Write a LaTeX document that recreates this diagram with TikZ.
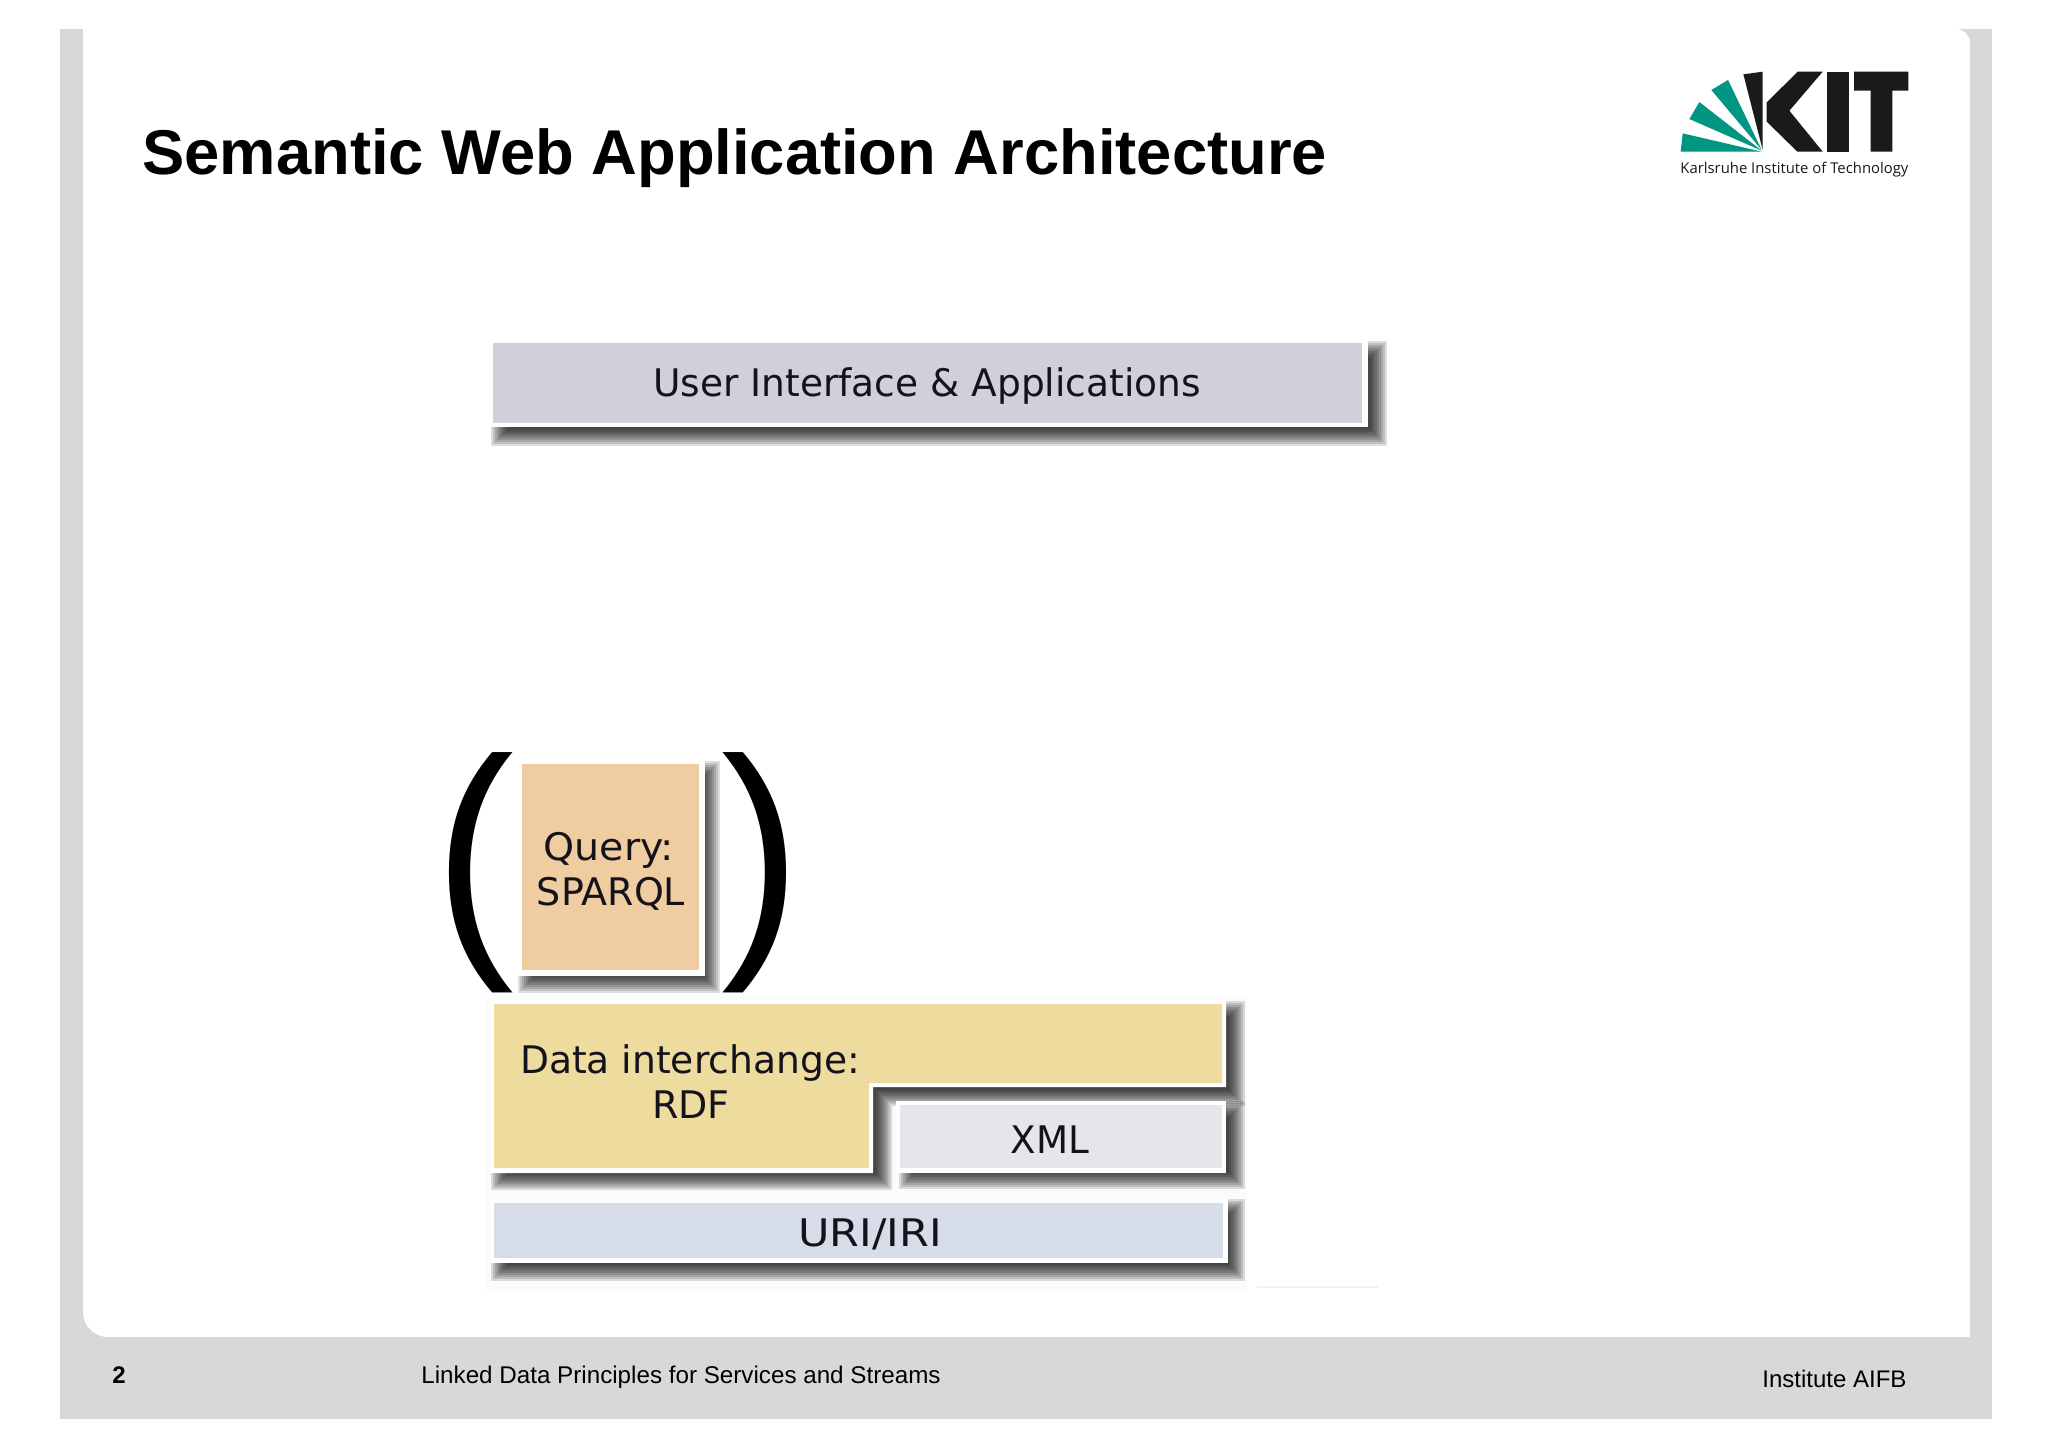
\documentclass[tikz,border=0pt]{standalone}
\usepackage{graphicx}
\usepackage{fontspec}
\setmainfont{Liberation Sans}
\newfontfamily\boxfont{DejaVu Sans}
\newfontfamily\logofont{Open Sans}
\definecolor{slidegray}{HTML}{D8D8D8}
\definecolor{slidegrayb}{HTML}{D9D7DA}
\definecolor{kitgreen}{HTML}{009682}
\definecolor{kitblack}{HTML}{1A1A1A}
\definecolor{userfill}{HTML}{CFD0DA}
\definecolor{queryfill}{HTML}{F0CDA0}
\definecolor{rdffill}{HTML}{EEDB9E}
\definecolor{xmlfill}{HTML}{E6E5E9}
\definecolor{urifill}{HTML}{D7DCE9}
\definecolor{boxtext}{HTML}{14121A}
\newcommand{\softshadow}[4]{%
  \foreach \d in {9,7,5,3,1,-1,-3,-5,-7}{%
    \fill[black,opacity=0.13] (#1-\d,#2-\d) rectangle (#3+\d,#4+\d);
  }%
}
\newcommand{\notchshadow}[6]{%
  \foreach \d in {9,7,5,3,1,-1,-3,-5,-7}{%
    \fill[black,opacity=0.13] (#1-\d,#2-\d) -- (#3+\d,#2-\d) -- (#3+\d,#4+\d) -- (#5+\d,#4+\d) -- (#5+\d,#6+\d) -- (#1-\d,#6+\d) -- cycle;
  }%
}
\tikzset{
  x=0.5pt,y=-0.5pt,
  boxlabel/.style={anchor=base,inner sep=0pt,text=boxtext,font=\boxfont\fontsize{19}{23}\selectfont},
  txt/.style={anchor=base west,inner sep=0pt,text=black},
  paren/.style={anchor=base west,inner sep=0pt,text=black,font=\fontsize{129}{129}\selectfont}
}
\begin{document}
\begin{tikzpicture}
\useasboundingbox (0,0) rectangle (2048,1447);
\fill[white] (0,0) rectangle (2048,1447);
% slide frame
\fill[slidegray] (60,29) rectangle (1992,1419);
\fill[slidegrayb] (1247,1337) rectangle (1970,1419);
\fill[white] (83,29) -- (1956,29) to[out=0,in=90] (1970,43) -- (1970,1337) -- (108,1337) to[out=180,in=270] (83,1312) -- cycle;
% faint image backdrops
\fill[black,opacity=0.015] (486,998) rectangle (1247,1290);
\fill[black,opacity=0.05] (1257,1286) rectangle (1378,1288);
% title and logo
\node[txt,font=\bfseries\fontsize{31.66}{36}\selectfont] (title) at (142,174) {Semantic Web Application Architecture};
\begin{scope}[shift={(1640,40)},x=0.1667pt,y=-0.1667pt]
\fill[kitgreen] (365,335) -- (122,335) -- (128,280) -- cycle;
\fill[kitgreen] (365,332) -- (148,237) -- (178,186) -- cycle;
\fill[kitgreen] (365,330) -- (214,150) -- (264,120) -- cycle;
\fill[kitblack] (368,330) -- (310,103) -- (368,95) -- cycle;
\fill[kitblack] (380,187) -- (473,95) -- (548,95) -- (448,212) -- (548,335) -- (472,335) -- (380,245) -- cycle;
\fill[kitblack] (560,95) rectangle (627,335);
\fill[kitblack] (642,95) -- (805,95) -- (805,152) -- (757,152) -- (757,335) -- (692,335) -- (692,152) -- (642,152) -- cycle;
\end{scope}
\node[txt,text=kitblack,font=\logofont\fontsize{7.43}{8}\selectfont] (kitname) at (1680,173) {Karlsruhe Institute of Technology};
% user box
\softshadow{500}{350}{1378}{437}
\fill[white] (490,340) rectangle (1368,427);
\fill[userfill] (493,343) rectangle (1362,423);
\node[boxlabel] (user) at (927,396) {\scalebox{0.987}[1]{User Interface \& Applications}};
% query box
\softshadow{527}{770}{711}{984}
\node[paren] (lp) at (434,939) {\scalebox{0.93}[1]{(}};
\node[paren] (rp) at (721,939) {\scalebox{0.93}[1]{)}};
\fill[white] (517,760) rectangle (705,976);
\fill[queryfill] (522,764) rectangle (699,970);
\node[boxlabel] (q1) at (609,860) {\scalebox{1.04}[1]{Query:}};
\node[boxlabel] (q2) at (611,905) {SPARQL};
% RDF
\notchshadow{500}{1010}{1236}{1097}{883}{1181}
\fill[white] (491,1000) -- (1226,1000) -- (1226,1087) -- (873,1087) -- (873,1173) -- (491,1173) -- cycle;
\fill[rdffill] (494,1004) -- (1222,1004) -- (1222,1083) -- (869,1083) -- (869,1168) -- (494,1168) -- cycle;
\node[boxlabel] (d1) at (690,1073) {\scalebox{0.99}[1]{Data interchange:}};
\node[boxlabel] (d2) at (691,1118) {RDF};
% XML
\softshadow{908}{1110}{1236}{1180}
\fill[white] (896,1101) rectangle (1226,1173);
\fill[xmlfill] (900,1105) rectangle (1222,1168);
\node[boxlabel] (xml) at (1050,1153) {\scalebox{0.98}[1]{XML}};
% URI
\softshadow{500}{1208}{1236}{1272}
\fill[white] (491,1199) rectangle (1228,1263);
\fill[urifill] (494,1203) rectangle (1223,1258);
\node[boxlabel] (uri) at (870,1246) {\scalebox{1.13}[1]{URI/IRI}};
% footer
\node[txt,font=\bfseries\fontsize{12}{14}\selectfont] (num) at (112,1383) {2};
\node[txt,font=\fontsize{12.1}{14}\selectfont] (foot) at (421,1383) {Linked Data Principles for Services and Streams};
\node[txt,font=\fontsize{12}{14}\selectfont] (inst) at (1762,1387) {Institute AIFB};
\end{tikzpicture}
\end{document}
